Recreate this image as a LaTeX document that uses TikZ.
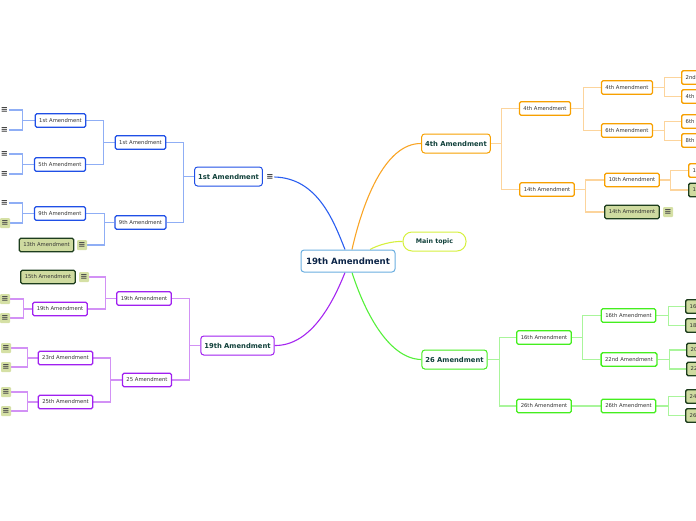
\documentclass[tikz,border=0pt]{standalone}
\usepackage{fontspec}
\setmainfont{DejaVu Sans}
\newfontfamily\iconfont{DejaVu Sans}
\usetikzlibrary{backgrounds}
\definecolor{cblue}{HTML}{1F4FE6}
\definecolor{lblue}{HTML}{8FAEF5}
\definecolor{mblue}{HTML}{2A5EF0}
\definecolor{cpur}{HTML}{A020F0}
\definecolor{lpur}{HTML}{D291F5}
\definecolor{mpur}{HTML}{A526F0}
\definecolor{cora}{HTML}{F7A000}
\definecolor{lora}{HTML}{FCD49C}
\definecolor{mora}{HTML}{F9A526}
\definecolor{cgre}{HTML}{44EE1E}
\definecolor{lgre}{HTML}{A9F59B}
\definecolor{mgre}{HTML}{55F03A}
\definecolor{cyel}{HTML}{D6F03E}
\definecolor{ccen}{HTML}{6AAEE0}
\definecolor{tnavy}{HTML}{0B2447}
\definecolor{tdark}{HTML}{10403A}
\definecolor{gfill}{HTML}{CFDBA0}
\definecolor{gbord}{HTML}{1D3D1D}
\definecolor{ibg}{HTML}{D5E0A5}
\definecolor{tsmall}{HTML}{333333}
\tikzset{
  cen/.style={draw=ccen,line width=1pt,rounded corners=3pt,fill=white,minimum height=22pt,minimum width=94pt,font=\bfseries\fontsize{8.6}{10}\selectfont,text=tnavy},
  mtopic/.style={draw=cyel,line width=1pt,rounded corners=9pt,fill=white,minimum height=19pt,minimum width=63pt,font=\bfseries\fontsize{6.3}{8}\selectfont,text=tdark},
  lone/.style={draw=#1,line width=1pt,rounded corners=3pt,fill=white,minimum height=19pt,inner xsep=3.5pt,font=\bfseries\fontsize{6.8}{8}\selectfont,text=tdark},
  sm/.style={draw=#1,line width=1.3pt,rounded corners=1.5pt,fill=white,minimum height=13.5pt,inner xsep=4pt,inner ysep=0pt,font=\fontsize{5.3}{6}\selectfont,text=tsmall},
  gsm/.style={draw=gbord,line width=1.3pt,rounded corners=1.5pt,fill=gfill,minimum height=13.5pt,inner xsep=4pt,inner ysep=0pt,font=\fontsize{5.3}{6}\selectfont,text=tsmall},
  ico/.style={inner sep=0.6pt,font=\iconfont\bfseries\fontsize{8.5}{8.5}\selectfont,text=black!75},
  gico/.style={fill=ibg,rounded corners=1pt,inner sep=1pt,minimum width=10pt,minimum height=10pt,font=\iconfont\bfseries\fontsize{8.5}{8.5}\selectfont,text=black!70},
  bl/.style={draw=lblue,line width=1.1pt},
  pu/.style={draw=lpur,line width=1.1pt},
  orl/.style={draw=lora,line width=1.1pt},
  gr/.style={draw=lgre,line width=1.1pt},
}
\begin{document}
\begin{tikzpicture}[x=1pt,y=-1pt]
\useasboundingbox (0,0) rectangle (696,520);

% ---------- nodes ----------
\node[cen] (c) at (348,261) {19th Amendment};
\node[mtopic] (mt) at (434.5,241.5) {Main topic};

% level 1
\node[lone=cblue] (b1) at (228.5,176.5) {1st Amendment};
\node[ico] (b1i) at (270,177) {≡};
\node[lone=cpur] (p1) at (237.5,345.5) {19th Amendment};
\node[lone=cora] (o1) at (456,143.5) {4th Amendment};
\node[lone=cgre] (g1) at (454.5,359.5) {26 Amendment};

% blue
\node[sm=cblue] (b2a) at (140.5,142.5) {1st Amendment};
\node[sm=cblue] (b2b) at (140.5,222.5) {9th Amendment};
\node[sm=cblue] (b3a) at (60.5,120.5) {1st Amendment};
\node[sm=cblue] (b3b) at (60,164.5) {5th Amendment};
\node[sm=cblue] (b3c) at (60,213.5) {9th Amendment};
\node[gsm] (b3d) at (46.5,245) {13th Amendment};
\node[gico] (b3di) at (82,245) {≡};
\node[ico] (bl1) at (4.5,110) {≡};
\node[ico] (bl2) at (4.5,130) {≡};
\node[ico] (bl3) at (4.5,154) {≡};
\node[ico] (bl4) at (4.5,174) {≡};
\node[ico] (bl5) at (4.5,203) {≡};
\node[gico] (bl6) at (5,223) {≡};

% purple
\node[sm=cpur] (p2a) at (144,298.5) {19th Amendment};
\node[sm=cpur] (p2b) at (147,380) {25 Amendment};
\node[gsm] (p3a) at (48,277) {15th Amendment};
\node[gico] (p3ai) at (84,277) {≡};
\node[sm=cpur] (p3b) at (60,309) {19th Amendment};
\node[sm=cpur] (p3c) at (65.5,358) {23rd Amendment};
\node[sm=cpur] (p3d) at (65.5,402) {25th Amendment};
\node[gico] (pl1) at (5,299) {≡};
\node[gico] (pl2) at (5,318) {≡};
\node[gico] (pl3) at (6,348) {≡};
\node[gico] (pl4) at (6,367) {≡};
\node[gico] (pl5) at (6,392) {≡};
\node[gico] (pl6) at (6,411) {≡};

% orange
\node[sm=cora] (o2a) at (545,108.5) {4th Amendment};
\node[sm=cora] (o2b) at (547,189.5) {14th Amendment};
\node[sm=cora] (o3a) at (627,87.5) {4th Amendment};
\node[sm=cora] (o3b) at (627,130.5) {6th Amendment};
\node[sm=cora] (o3c) at (632,180) {10th Amendment};
\node[gsm] (o3d) at (632,212) {14th Amendment};
\node[gico] (o3di) at (668,212) {≡};
\node[sm=cora,anchor=west] (o4a) at (681,77.5) {2nd Amendment};
\node[sm=cora,anchor=west] (o4b) at (681,96.5) {4th Amendment};
\node[sm=cora,anchor=west] (o4c) at (681,121.5) {6th Amendment};
\node[sm=cora,anchor=west] (o4d) at (681,140.5) {8th Amendment};
\node[sm=cora,anchor=west] (o4e) at (688,170.5) {11th Amendment};
\node[gsm,anchor=west] (o4f) at (688,190) {12th Amendment};

% green
\node[sm=cgre] (g2a) at (544,337.5) {16th Amendment};
\node[sm=cgre] (g2b) at (544,406) {26th Amendment};
\node[sm=cgre] (g3a) at (628.5,315.5) {16th Amendment};
\node[sm=cgre] (g3b) at (629,359.5) {22nd Amendment};
\node[sm=cgre] (g3c) at (628.5,406) {26th Amendment};
\node[gsm,anchor=west] (g4a) at (685,306.5) {16th Amendment};
\node[gsm,anchor=west] (g4b) at (685,325.5) {18th Amendment};
\node[gsm,anchor=west] (g4c) at (686,350) {20th Amendment};
\node[gsm,anchor=west] (g4d) at (686,369) {22nd Amendment};
\node[gsm,anchor=west] (g4e) at (685,396.5) {24th Amendment};
\node[gsm,anchor=west] (g4f) at (685,415.5) {26th Amendment};

% ---------- connectors ----------
\begin{pgfonlayer}{background}
\coordinate (cb) at ([xshift=-3pt]c.north);
\coordinate (co) at ([xshift=4pt]c.north);
\coordinate (cp) at ([xshift=-3pt]c.south);
\coordinate (cg) at ([xshift=4pt]c.south);
\coordinate (cy) at ([xshift=22pt]c.north);
\draw[draw=mblue,line width=1.1pt] (b1i.east) .. controls (318,178) and (334,222) .. (cb);
\draw[draw=mpur,line width=1.1pt] (p1.east) .. controls (312,346) and (334,300) .. (cp);
\draw[draw=mora,line width=1.1pt] (o1.west) .. controls (384,143) and (362,205) .. (co);
\draw[draw=mgre,line width=1.1pt] (g1.west) .. controls (388,359) and (364,310) .. (cg);
\draw[draw=cyel,line width=1.1pt] (mt.west) .. controls (392,241) and (378,245) .. (cy);

% blue
\draw[bl] (b1.west) -- ++(-11,0) |- (b2a.east);
\draw[bl] (b1.west) -- ++(-11,0) |- (b2b.east);
\draw[bl] (b2a.west) -- ++(-11,0) |- (b3a.east);
\draw[bl] (b2a.west) -- ++(-11,0) |- (b3b.east);
\draw[bl] (b2b.west) -- ++(-10,0) |- (b3c.east);
\draw[bl] (b2b.west) -- ++(-10,0) |- (b3di.east);
\draw[bl] (b3a.west) -- ++(-12,0) |- (bl1.east);
\draw[bl] (b3a.west) -- ++(-12,0) |- (bl2.east);
\draw[bl] (b3b.west) -- ++(-11,0) |- (bl3.east);
\draw[bl] (b3b.west) -- ++(-11,0) |- (bl4.east);
\draw[bl] (b3c.west) -- ++(-11,0) |- (bl5.east);
\draw[bl] (b3c.west) -- ++(-11,0) |- (bl6.east);

% purple
\draw[pu] (p1.west) -- ++(-11,0) |- (p2a.east);
\draw[pu] (p1.west) -- ++(-11,0) |- (p2b.east);
\draw[pu] (p2a.west) -- ++(-11,0) |- (p3ai.east);
\draw[pu] (p2a.west) -- ++(-11,0) |- (p3b.east);
\draw[pu] (p2b.west) -- ++(-11,0) |- (p3c.east);
\draw[pu] (p2b.west) -- ++(-11,0) |- (p3d.east);
\draw[pu] (p3b.west) -- ++(-9,0) |- (pl1.east);
\draw[pu] (p3b.west) -- ++(-9,0) |- (pl2.east);
\draw[pu] (p3c.west) -- ++(-10,0) |- (pl3.east);
\draw[pu] (p3c.west) -- ++(-10,0) |- (pl4.east);
\draw[pu] (p3d.west) -- ++(-10,0) |- (pl5.east);
\draw[pu] (p3d.west) -- ++(-10,0) |- (pl6.east);

% orange
\draw[orl] (o1.east) -- ++(11,0) |- (o2a.west);
\draw[orl] (o1.east) -- ++(11,0) |- (o2b.west);
\draw[orl] (o2a.east) -- ++(12,0) |- (o3a.west);
\draw[orl] (o2a.east) -- ++(12,0) |- (o3b.west);
\draw[orl] (o2b.east) -- ++(11,0) |- (o3c.west);
\draw[orl] (o2b.east) -- ++(11,0) |- (o3d.west);
\draw[orl] (o3a.east) -- ++(11,0) |- (o4a.west);
\draw[orl] (o3a.east) -- ++(11,0) |- (o4b.west);
\draw[orl] (o3b.east) -- ++(11,0) |- (o4c.west);
\draw[orl] (o3b.east) -- ++(11,0) |- (o4d.west);
\draw[orl] (o3c.east) -- ++(11,0) |- (o4e.west);
\draw[orl] (o3c.east) -- ++(11,0) |- (o4f.west);

% green
\draw[gr] (g1.east) -- ++(12,0) |- (g2a.west);
\draw[gr] (g1.east) -- ++(12,0) |- (g2b.west);
\draw[gr] (g2a.east) -- ++(11,0) |- (g3a.west);
\draw[gr] (g2a.east) -- ++(11,0) |- (g3b.west);
\draw[gr] (g2b.east) -- (g3c.west);
\draw[gr] (g3a.east) -- ++(12,0) |- (g4a.west);
\draw[gr] (g3a.east) -- ++(12,0) |- (g4b.west);
\draw[gr] (g3b.east) -- ++(12,0) |- (g4c.west);
\draw[gr] (g3b.east) -- ++(12,0) |- (g4d.west);
\draw[gr] (g3c.east) -- ++(12,0) |- (g4e.west);
\draw[gr] (g3c.east) -- ++(12,0) |- (g4f.west);
\end{pgfonlayer}
\end{tikzpicture}
\end{document}
